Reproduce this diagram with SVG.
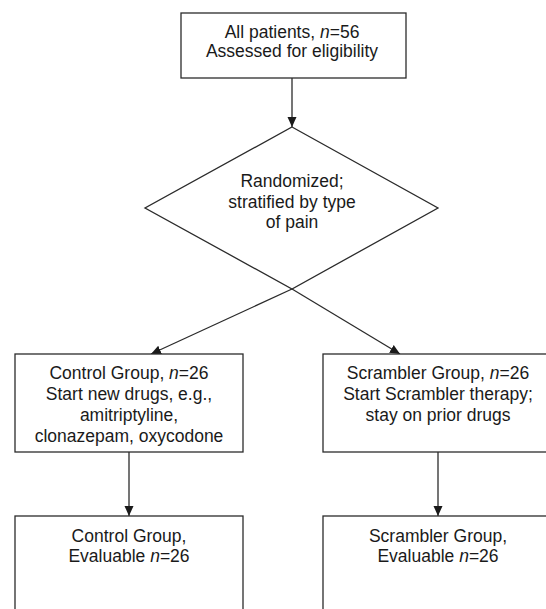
<svg xmlns="http://www.w3.org/2000/svg" width="546" height="609" viewBox="0 0 546 609">
<style>
.box{fill:#fff;stroke:#2b2b2b;stroke-width:1.3}
.lbl{font-family:"Liberation Sans",Arial,sans-serif;font-size:17.5px;fill:#1a1a1a;text-anchor:middle}
.it{font-style:italic}
.con{stroke:#2b2b2b;stroke-width:1.3;fill:none;marker-end:url(#ah)}
</style>
<defs>
<marker id="ah" markerUnits="userSpaceOnUse" markerWidth="11" markerHeight="10" refX="10" refY="4.5" orient="auto">
<path d="M0,0 L10,4.5 L0,9 z" fill="#1a1a1a"/>
</marker>
</defs>
<rect width="546" height="609" fill="#fff"/>
<g id="connectors">
<line class="con" x1="292" y1="78" x2="292" y2="127"/>
<line class="con" x1="292" y1="289" x2="151" y2="354"/>
<line class="con" x1="292" y1="289" x2="400" y2="354"/>
<line class="con" x1="129" y1="452" x2="129" y2="516"/>
<line class="con" x1="438" y1="452" x2="438" y2="516"/>
</g>
<g id="all-patients">
<rect class="box" x="181" y="13" width="225" height="65"/>
<text class="lbl" x="292" y="37.5">All patients, <tspan class="it">n</tspan>=56</text>
<text class="lbl" x="292" y="57">Assessed for eligibility</text>
</g>
<g id="randomized">
<polygon class="box" points="292,127 438,208 292,289 145,208"/>
<text class="lbl" x="292" y="187">Randomized;</text>
<text class="lbl" x="292" y="207.5">stratified by type</text>
<text class="lbl" x="292" y="228">of pain</text>
</g>
<g id="control-group">
<rect class="box" x="15" y="354" width="228" height="98"/>
<text class="lbl" x="129" y="379">Control Group, <tspan class="it">n</tspan>=26</text>
<text class="lbl" x="129" y="400">Start new drugs, e.g.,</text>
<text class="lbl" x="129" y="420.7">amitriptyline,</text>
<text class="lbl" x="129" y="441.5">clonazepam, oxycodone</text>
</g>
<g id="scrambler-group">
<rect class="box" x="323" y="354" width="228" height="98"/>
<text class="lbl" x="438" y="379">Scrambler Group, <tspan class="it">n</tspan>=26</text>
<text class="lbl" x="438" y="400">Start Scrambler therapy;</text>
<text class="lbl" x="438" y="420.7">stay on prior drugs</text>
</g>
<g id="control-evaluable">
<rect class="box" x="15" y="516" width="228" height="110"/>
<text class="lbl" x="129" y="541.7">Control Group,</text>
<text class="lbl" x="129" y="561.7">Evaluable <tspan class="it">n</tspan>=26</text>
</g>
<g id="scrambler-evaluable">
<rect class="box" x="323" y="516" width="228" height="110"/>
<text class="lbl" x="438" y="541.7">Scrambler Group,</text>
<text class="lbl" x="438" y="561.7">Evaluable <tspan class="it">n</tspan>=26</text>
</g>
</svg>
